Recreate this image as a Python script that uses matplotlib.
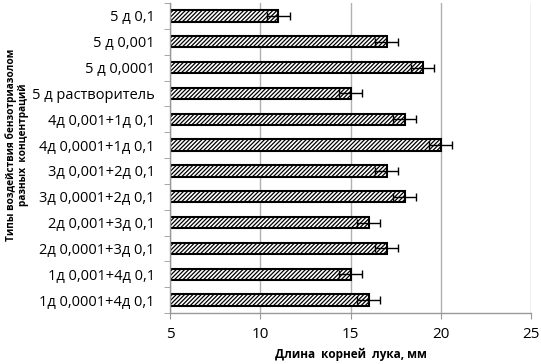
import numpy as np
import matplotlib
matplotlib.use("Agg")
import matplotlib.pyplot as plt

plt.rcParams['font.family'] = ['Open Sans', 'DejaVu Sans']
plt.rcParams['hatch.color'] = '#4a4a4a'
plt.rcParams['hatch.linewidth'] = 0.9

# Categories listed bottom to top
categories = [
    "1д 0,0001+4д 0,1",
    "1д 0,001+4д 0,1",
    "2д 0,0001+3д 0,1",
    "2д 0,001+3д 0,1",
    "3д 0,0001+2д 0,1",
    "3д 0,001+2д 0,1",
    "4д 0,0001+1д 0,1",
    "4д 0,001+1д 0,1",
    "5 д растворитель",
    "5 д 0,0001",
    "5 д 0,001",
    "5 д 0,1",
]
lengths = [16, 15, 17, 16, 18, 17, 20, 18, 15, 19, 17, 11]
errors = [0.65, 0.65, 0.65, 0.65, 0.65, 0.65, 0.65, 0.65, 0.65, 0.65, 0.65, 0.65]

fig = plt.figure(figsize=(5.41, 3.64), dpi=100)
ax = fig.add_axes([170 / 541, 1 - 313 / 364, 361 / 541, 310 / 364])

y = np.arange(len(categories))
ax.barh(y, np.array(lengths) - 5, left=5, height=0.44, color='white',
        edgecolor='black', linewidth=1.5, hatch='////////', zorder=2)
ax.errorbar(lengths, y, xerr=errors, fmt='none', ecolor='black',
            elinewidth=1.0, capsize=3, capthick=1.0, zorder=3)

ax.set_xlim(5, 25)
ax.set_ylim(-0.5, len(categories) - 0.5)
ax.set_xticks([5, 10, 15, 20, 25])
ax.set_yticks(y)
ax.set_yticklabels(categories, fontsize=10.5)
ax.set_yticks(np.arange(-0.5, len(categories), 1), minor=True)
ax.tick_params(axis='y', which='major', length=0, pad=11)
ax.tick_params(axis='y', which='minor', length=4, color='#999999', direction='out')
ax.tick_params(axis='x', length=4, color='#999999', labelsize=11, pad=6)

ax.grid(axis='x', color='#b0b0b0', linewidth=1.0, zorder=0)
ax.set_axisbelow(True)
for s in ['top', 'right']:
    ax.spines[s].set_visible(False)
for s in ['left', 'bottom']:
    ax.spines[s].set_color('#999999')
    ax.spines[s].set_linewidth(1.0)

ax.set_xlabel("Длина  корней  лука, мм", fontsize=8.5, fontweight='bold', labelpad=4)
fig.text(17 / 541, 1 - 145 / 364, "Типы воздействия бензотриазолом\nразных  концентраций",
         rotation=90, fontsize=7.3, fontweight='bold', ha='center', va='center',
         linespacing=1.15)

fig.savefig("out.png", dpi=100)
